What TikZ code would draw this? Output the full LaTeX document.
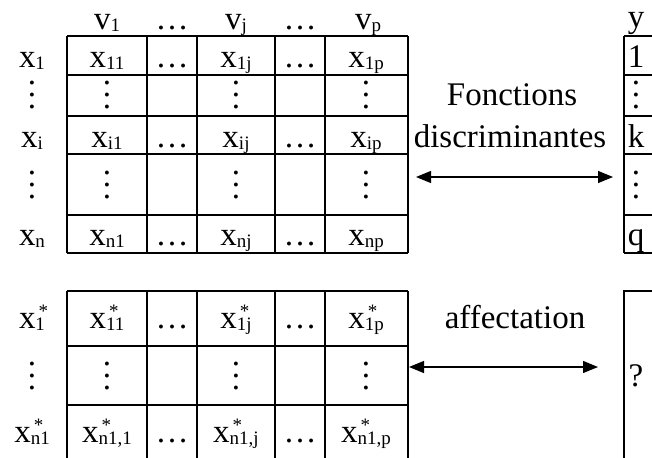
\documentclass[tikz,border=0pt]{standalone}
\usepackage{fontspec}
\setmainfont{Liberation Serif}
\usetikzlibrary{arrows.meta}

\newcommand{\sbs}[1]{\lower2pt\hbox{\fontsize{19}{19}\selectfont #1}}
\newcommand{\ix}[1]{x\sbs{#1}}
\newcommand{\ixs}[1]{x\rlap{\kern3pt\raisebox{11pt}{\fontsize{19}{19}\selectfont *}}\sbs{#1}}
\newcommand{\vd}{\vbox{\baselineskip=12pt \hbox{.}\hbox{.}\hbox{.}}}

\tikzset{
  txt/.style={inner sep=0pt, anchor=base, font=\fontsize{33}{40}\selectfont},
  vdt/.style={inner sep=0pt, font=\fontsize{33}{40}\selectfont},
  grid/.style={line width=1.2pt},
  link/.style={line width=1.2pt, {Triangle[length=15pt,width=12pt]}-{Triangle[length=15pt,width=12pt]}}
}

\begin{document}
\begin{tikzpicture}[x=1pt,y=-1pt]
  \useasboundingbox (0,0) rectangle (652,457);
  \clip (0,0) rectangle (652,457);

  % learning table
  \foreach \yy in {36,75,116,154,215,253}
    \draw[grid] (67,\yy) -- (408,\yy);
  \foreach \xx in {67,147,197,275,325,408}
    \draw[grid] (\xx,36) -- (\xx,253);
  % class column
  \foreach \yy in {36,75,116,154,215,253}
    \draw[grid] (624,\yy) -- (670,\yy);
  \draw[grid] (624,36) -- (624,253);

  % new individuals
  \foreach \yy in {291,346,405}
    \draw[grid] (67,\yy) -- (408,\yy);
  \foreach \xx in {67,147,197,275,325,408}
    \draw[grid] (\xx,291) -- (\xx,470);
  \draw[grid] (670,291) -- (624,291) -- (624,470);

  % headers
  \path
    (107,30) node[txt] (v1) {v\sbs{1}}
    (172,30) node[txt] (vd1) {\dots}
    (236,30) node[txt] (vj) {v\sbs{j}}
    (300,30) node[txt] (vd2) {\dots}
    (368,30) node[txt] (vp) {v\sbs{p}}
    (636,28) node[txt] (y) {y};

  % rows
  \path
    (32,68) node[txt] (x1) {\ix{1}}
    (32,95) node[vdt] (xv1) {\vd}
    (32,147) node[txt] (xi) {\ix{i}}
    (32,185) node[vdt] (xv2) {\vd}
    (32,245) node[txt] (xn) {\ix{n}};

  \path
    (107,68) node[txt] (x11) {\ix{11}}
    (172,68) node[txt] (d11) {\dots}
    (236,68) node[txt] (x1j) {\ix{1j}}
    (300,68) node[txt] (d12) {\dots}
    (366,68) node[txt] (x1p) {\ix{1p}}
    (107,95) node[vdt] (v21) {\vd}
    (236,95) node[vdt] (v23) {\vd}
    (366,95) node[vdt] (v25) {\vd}
    (107,147) node[txt] (xi1) {\ix{i1}}
    (172,147) node[txt] (di1) {\dots}
    (236,147) node[txt] (xij) {\ix{ij}}
    (300,147) node[txt] (di2) {\dots}
    (366,147) node[txt] (xip) {\ix{ip}}
    (107,185) node[vdt] (v41) {\vd}
    (236,185) node[vdt] (v43) {\vd}
    (366,185) node[vdt] (v45) {\vd}
    (107,245) node[txt] (xn1) {\ix{n1}}
    (172,245) node[txt] (dn1) {\dots}
    (236,245) node[txt] (xnj) {\ix{nj}}
    (300,245) node[txt] (dn2) {\dots}
    (366,245) node[txt] (xnp) {\ix{np}};

  \path
    (636,68) node[txt] (c1) {1}
    (636,95) node[vdt] (cv1) {\vd}
    (636,147) node[txt] (ck) {k}
    (636,185) node[vdt] (cv2) {\vd}
    (636,245) node[txt] (cq) {q};

  % starred rows
  \path
    (32,328) node[txt] (s1) {\ixs{1}}
    (32,376) node[vdt] (sv) {\vd}
    (32,442) node[txt] (sn) {\ixs{n1}}
    (107,328) node[txt] (s11) {\ixs{11}}
    (172,328) node[txt] (sd11) {\dots}
    (236,328) node[txt] (s1j) {\ixs{1j}}
    (300,328) node[txt] (sd12) {\dots}
    (366,328) node[txt] (s1p) {\ixs{1p}}
    (107,376) node[vdt] (sv1) {\vd}
    (236,376) node[vdt] (sv3) {\vd}
    (366,376) node[vdt] (sv5) {\vd}
    (107,442) node[txt] (sn1) {\ixs{n1,1}}
    (172,442) node[txt] (sdn1) {\dots}
    (236,442) node[txt] (snj) {\ixs{n1,j}}
    (300,442) node[txt] (sdn2) {\dots}
    (366,442) node[txt] (snp) {\ixs{n1,p}}
    (636,386) node[txt] (q) {?};

  % labels
  \path
    (512,106) node[txt] (fonc) {Fonctions}
    (510,148) node[txt] (disc) {discriminantes}
    (515,328) node[txt] (aff) {affectation};

  \coordinate (fl) at (416,177);
  \coordinate (fr) at (613,177);
  \coordinate (al) at (409,367);
  \coordinate (ar) at (598,367);
  \begin{scope}[link]
    \draw (fl) to (fr);
    \draw (al) to (ar);
  \end{scope}
\end{tikzpicture}
\end{document}
